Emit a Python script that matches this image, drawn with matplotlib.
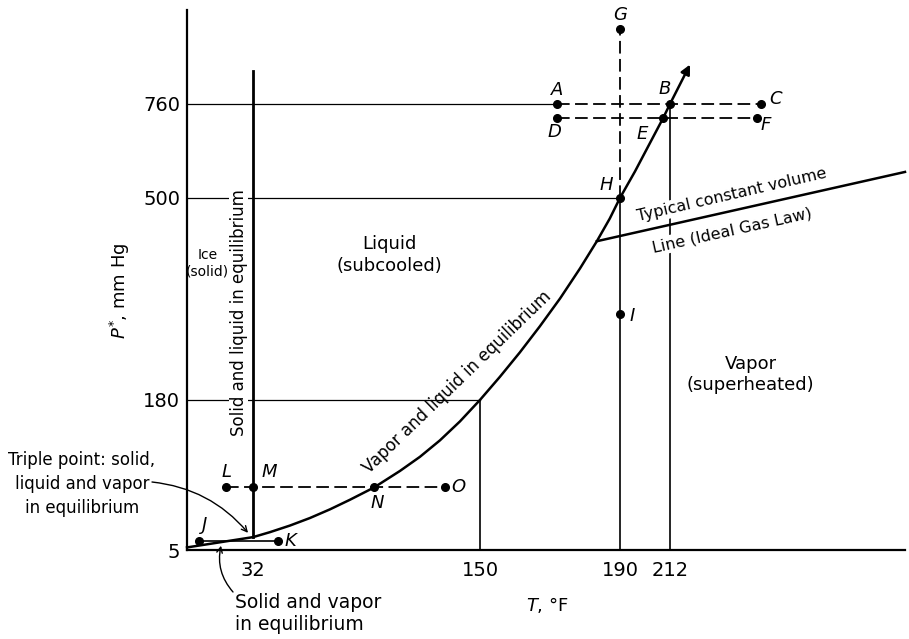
import numpy as np
import matplotlib
matplotlib.use('Agg')
import matplotlib.pyplot as plt

plt.rcParams['font.family'] = ['DejaVu Sans']
plt.rcParams['mathtext.fontset'] = 'dejavusans'

# ---- schematic (non-linear) axis anchors: value -> fraction of axis length
T_ANCHOR = [0, 32, 150, 190, 212, 320]
T_FRAC = [0.0, 0.0919, 0.408, 0.603, 0.6727, 1.0]
P_ANCHOR = [5, 180, 500, 760, 1020]
P_FRAC = [0.0, 0.2778, 0.6519, 0.826, 1.0]

x_ticks = [32, 150, 190, 212]
x_ticklabels = ['32', '150', '190', '212']
y_ticks = [5, 180, 500, 760]
y_ticklabels = ['5', '180', '500', '760']

# ---- curves (T in deg F, P in mm Hg)
T_vap = [32, 40.8, 51.2, 61.6, 72.0, 82.4, 95, 108.4, 118.8, 129.2, 139.6, 150, 155.7,
         161.4, 167.1, 172.9, 178.6, 183.4, 187.1, 190, 196.6, 203.2, 208.9, 212, 221.2]
P_vap = [20, 25.8, 33.5, 42.3, 52.4, 63.6, 78, 97.2, 113.7, 132.9, 155.0, 180, 216.7,
         255.4, 296.6, 340.9, 388.5, 431.5, 467.5, 500, 573.3, 652.1, 720, 760, 869]
T_sub = [0, 16, 32]
P_sub = [8, 14, 20]
T_melt = [32, 32]
P_melt = [20, 850]
T_cv = [183.4, 320]
P_cv = [431.5, 572]

# ---- labelled states
point_names = ['A', 'B', 'C', 'D', 'E', 'F', 'G', 'H', 'I', 'J', 'K', 'L', 'M', 'N', 'O']
point_T = [172, 212, 254, 172, 208.9, 252, 190, 190, 190, 6, 45, 19, 32, 95, 132]
point_P = [760, 760, 760, 720, 720, 720, 967, 500, 316, 15, 15, 78, 78, 78, 78]

W, H = 909, 639
fig = plt.figure(figsize=(W / 100, H / 100), dpi=100)
ax = fig.add_axes([187 / W, (H - 550) / H, (905 - 187) / W, (550 - 10) / H])


def fT(t):
    return np.interp(t, T_ANCHOR, T_FRAC)


def iT(f):
    return np.interp(f, T_FRAC, T_ANCHOR)


def fP(p):
    return np.interp(p, P_ANCHOR, P_FRAC)


def iP(f):
    return np.interp(f, P_FRAC, P_ANCHOR)


ax.set_xscale('function', functions=(fT, iT))
ax.set_yscale('function', functions=(fP, iP))
ax.set_xlim(T_ANCHOR[0], T_ANCHOR[-1])
ax.set_ylim(P_ANCHOR[0], P_ANCHOR[-1])

for s in ['top', 'right']:
    ax.spines[s].set_visible(False)
ax.spines['left'].set_linewidth(1.6)
ax.spines['bottom'].set_linewidth(1.6)
ax.set_xticks(x_ticks)
ax.set_xticklabels(x_ticklabels)
ax.set_yticks(y_ticks)
ax.set_yticklabels(y_ticklabels)
ax.minorticks_off()
ax.tick_params(axis='both', length=0, labelsize=14)
ax.tick_params(axis='x', pad=8)
ax.tick_params(axis='y', pad=5)

k = 'black'
thin = 0.9
mid = 1.2
thick = 1.8
dash = (7, 3)

# thin guide lines
ax.plot([0, 172], [760, 760], color=k, lw=thin, clip_on=False)
ax.plot([0, 190], [500, 500], color=k, lw=thin, clip_on=False)
ax.plot([0, 150], [180, 180], color=k, lw=thin, clip_on=False)
ax.plot([150, 150], [5, 180], color=k, lw=mid, clip_on=False)
ax.plot([190, 190], [5, 500], color=k, lw=mid, clip_on=False)
ax.plot([212, 212], [5, 760], color=k, lw=mid, clip_on=False)

# dashed process lines
ax.plot([172, 254], [760, 760], color=k, lw=1.3, dashes=dash, clip_on=False)
ax.plot([172, 252], [720, 720], color=k, lw=1.3, dashes=dash, clip_on=False)
ax.plot([190, 190], [500, 967], color=k, lw=1.3, dashes=dash, clip_on=False)
ax.plot([19, 132], [78, 78], color=k, lw=1.3, dashes=dash, clip_on=False)
ax.plot([6, 45], [15, 15], color=k, lw=mid, clip_on=False)

# phase boundaries
ax.plot(T_vap[:-1], P_vap[:-1], color=k, lw=thick, clip_on=False,
        solid_capstyle='round', solid_joinstyle='round')
ax.annotate('', xy=(T_vap[-1], P_vap[-1]), xytext=(T_vap[-2], P_vap[-2]),
            arrowprops=dict(arrowstyle='-|>', lw=thick, color=k, shrinkA=0, shrinkB=0,
                            mutation_scale=14), annotation_clip=False)
ax.plot(T_sub, P_sub, color=k, lw=thick, clip_on=False, solid_joinstyle='round')
ax.plot(T_melt, P_melt, color=k, lw=2.0, clip_on=False)
ax.plot(T_cv, P_cv, color=k, lw=thick, clip_on=False)

# points and letters
offsets = {'A': (0, 10), 'B': (-4, 11), 'C': (10, 3.5), 'D': (-2, -10), 'E': (-15, -11.5),
           'F': (6, -5), 'G': (0, 10), 'H': (-10, 9), 'I': (9, -1), 'J': (3.5, 11.5),
           'K': (9, 0), 'L': (0, 11), 'M': (11.5, 11), 'N': (2, -11.5), 'O': (9.5, 0)}
ax.plot(point_T, point_P, 'o', color=k, ms=5.5, clip_on=False, zorder=5)
for name, t, p in zip(point_names, point_T, point_P):
    ax.annotate(name, xy=(t, p), xytext=offsets[name], textcoords='offset points',
                ha='center', va='center', fontsize=13, style='italic', annotation_clip=False)

bb = dict(facecolor='white', edgecolor='none', pad=1.0)
# region labels
ax.text(10.0, 397, 'Ice\n(solid)', ha='center', va='center', fontsize=10, linespacing=1.25)
ax.text(103, 410, 'Liquid\n(subcooled)', ha='center', va='center', fontsize=13, linespacing=1.3)
ax.text(249, 220, 'Vapor\n(superheated)', ha='center', va='center', fontsize=13, linespacing=1.2)
ax.text(25, 319, 'Solid and liquid in equilibrium', rotation=90, ha='center', va='center',
        fontsize=12, bbox=dict(facecolor='white', edgecolor='none', pad=0.3), zorder=4)
ax.text(138, 208, 'Vapor and liquid in equilibrium', rotation=44, ha='center', va='center',
        rotation_mode='anchor', fontsize=12)
ax.text(240.5, 508, 'Typical constant volume', rotation=13, ha='center', va='center',
        rotation_mode='anchor', fontsize=11.5, bbox=bb, zorder=4)
ax.text(240.5, 449, 'Line (Ideal Gas Law)', rotation=12.5, ha='center', va='center',
        rotation_mode='anchor', fontsize=11.5, bbox=bb, zorder=4)


# outside labels
def px(x, y):
    return x / W, 1 - y / H


fig.text(*px(82, 484), 'Triple point: solid,\nliquid and vapor\nin equilibrium',
         ha='center', va='center', fontsize=12, linespacing=1.45)
ax.annotate('', xy=(29.6, 25), xycoords='data', xytext=(152, H - 482), textcoords='figure pixels',
            arrowprops=dict(arrowstyle='->', lw=1.0, color=k, connectionstyle='arc3,rad=-0.2',
                            shrinkA=0, shrinkB=0), annotation_clip=False)
fig.text(*px(235, 614), 'Solid and vapor\nin equilibrium', ha='left', va='center',
         fontsize=13.5, linespacing=1.2)
ax.annotate('', xy=(16.5, 10), xycoords='data', xytext=(233, H - 592), textcoords='figure pixels',
            arrowprops=dict(arrowstyle='->', lw=1.0, color=k, connectionstyle='arc3,rad=-0.25',
                            shrinkA=0, shrinkB=0), annotation_clip=False)
fig.text(*px(547, 605), r'$T$, °F', ha='center', va='center', fontsize=13)
fig.text(*px(120, 291), r'$P^{*}$, mm Hg', ha='center', va='center', rotation=90, fontsize=13)

fig.savefig('out.png', dpi=100)
